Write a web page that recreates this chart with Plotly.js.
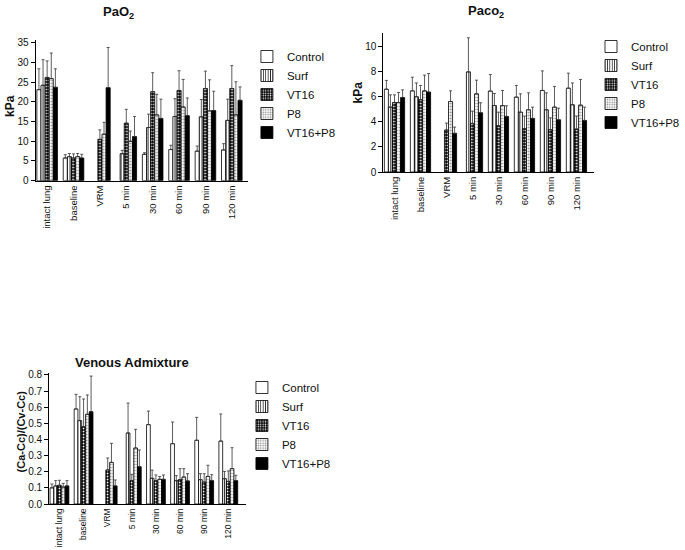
<!DOCTYPE html>
<html>
<head>
<meta charset="utf-8">
<script src="https://cdn.plot.ly/plotly-3.0.1.min.js"></script>
<style>html,body{margin:0;padding:0;background:#fff;}#chart{width:685px;height:550px;}</style>
</head>
<body>
<div id="chart"></div>
<script>
// ---------- data ----------
const categories = ['intact lung','baseline','VRM','5 min','30 min','60 min','90 min','120 min'];
const seriesNames = ['Control','Surf','VT16','P8','VT16+P8'];

// PaO2 (kPa) means and upper SD
const pao2_control = [23.1, 5.75, null, null, 6.7, 7.9, 7.5, 7.8];
const pao2_surf    = [24.2, 6.1, null, 6.85, 13.5, 16.3, 16.2, 15.3];
const pao2_vt16    = [26.2, 5.75, 10.5, 14.6, 22.6, 22.9, 23.4, 23.4];
const pao2_p8      = [25.9, 6.1, 11.8, 10.0, 16.7, 18.7, 17.7, 16.7];
const pao2_vt16p8  = [23.7, 5.75, 23.6, 11.2, 15.8, 16.5, 17.8, 20.4];
const pao2_control_sd = [5.3, 0.85, null, null, 0.4, 1.1, 1.3, 1.6];
const pao2_surf_sd    = [6.5, 0.8, null, 0.85, 3.4, 4.5, 4.4, 5.4];
const pao2_vt16_sd    = [4.2, 1.05, 2.4, 3.5, 4.8, 5.0, 4.4, 5.8];
const pao2_p8_sd      = [6.5, 0.8, 3.0, 2.6, 5.2, 7.0, 7.9, 8.4];
const pao2_vt16p8_sd  = [4.7, 0.95, 10.2, 5.1, 4.9, 4.5, 4.9, 3.4];

// PaCO2 (kPa)
const paco2_control = [6.6, 6.47, null, null, 6.45, 5.97, 6.5, 6.68];
const paco2_surf    = [5.17, 6.0, null, 7.98, 5.3, 4.77, 4.96, 5.36];
const paco2_vt16    = [5.54, 5.76, 3.34, 3.87, 3.69, 3.45, 3.37, 3.42];
const paco2_p8      = [5.54, 6.47, 5.62, 6.23, 5.3, 4.96, 5.17, 5.33];
const paco2_vt16p8  = [5.94, 6.37, 3.08, 4.72, 4.43, 4.27, 4.16, 4.11];
const paco2_control_sd = [0.7, 1.09, null, null, 1.32, 0.93, 1.56, 1.2];
const paco2_surf_sd    = [0.98, 1.1, null, 2.72, 0.96, 1.46, 1.35, 1.74];
const paco2_vt16_sd    = [0.61, 1.14, 0.56, 0.98, 1.08, 1.01, 0.95, 1.04];
const paco2_p8_sd      = [0.8, 1.25, 0.85, 1.09, 1.2, 1.35, 1.65, 2.04];
const paco2_vt16p8_sd  = [0.61, 1.48, 0.5, 0.8, 0.85, 0.9, 0.93, 1.06];

// Venous admixture (Ca-Cc)/(Cv-Cc)
const va_control = [0.10, 0.589, null, null, 0.492, 0.374, 0.395, 0.39];
const va_surf    = [0.112, 0.517, null, 0.44, 0.159, 0.145, 0.151, 0.157];
const va_vt16    = [0.116, 0.479, 0.211, 0.145, 0.145, 0.151, 0.136, 0.14];
const va_p8      = [0.105, 0.556, 0.258, 0.347, 0.153, 0.167, 0.171, 0.219];
const va_vt16p8  = [0.112, 0.572, 0.112, 0.231, 0.153, 0.143, 0.145, 0.145];
const va_control_sd = [0.024, 0.091, null, null, 0.084, 0.134, 0.142, 0.168];
const va_surf_sd    = [0.033, 0.148, null, 0.186, 0.051, 0.031, 0.037, 0.045];
const va_vt16_sd    = [0.031, 0.172, 0.074, 0.039, 0.035, 0.068, 0.052, 0.065];
const va_p8_sd      = [0.023, 0.12, 0.118, 0.116, 0.017, 0.052, 0.069, 0.13];
const va_vt16p8_sd  = [0.033, 0.221, 0.037, 0.104, 0.027, 0.045, 0.037, 0.033];

// ---------- styles ----------
const FONT = 'Arial, "Liberation Sans", sans-serif';
const patterns = [
  null,
  {shape:'|', size:3, solidity:0.33, fgcolor:'#222', bgcolor:'#fff'},
  {shape:'.', size:3, solidity:0.3, fgcolor:'#fff', bgcolor:'#000'},
  {shape:'.', size:3, solidity:0.35, fgcolor:'#888', bgcolor:'#fff'},
  null
];
const fills = ['#fff','#fff','#000','#fff','#000'];

function makeTraces(vals, sds, xa, ya, leg){
  return vals.map((v,i)=>{
    const m = {color:fills[i], line:{color:'#000', width:0.8}};
    if (patterns[i]) m.pattern = patterns[i];
    return {
      type:'bar', x:categories, y:v, name:seriesNames[i],
      xaxis:xa, yaxis:ya, legend:leg, legendgroup:leg+i,
      marker:m,
      error_y:{type:'data', symmetric:false, array:sds[i],
        arrayminus:sds[i].map(()=>0), color:'#333', thickness:0.8, width:1.5}
    };
  });
}

const data = [].concat(
  makeTraces([pao2_control,pao2_surf,pao2_vt16,pao2_p8,pao2_vt16p8],
             [pao2_control_sd,pao2_surf_sd,pao2_vt16_sd,pao2_p8_sd,pao2_vt16p8_sd],'x','y','legend'),
  makeTraces([paco2_control,paco2_surf,paco2_vt16,paco2_p8,paco2_vt16p8],
             [paco2_control_sd,paco2_surf_sd,paco2_vt16_sd,paco2_p8_sd,paco2_vt16p8_sd],'x2','y2','legend2'),
  makeTraces([va_control,va_surf,va_vt16,va_p8,va_vt16p8],
             [va_control_sd,va_surf_sd,va_vt16_sd,va_p8_sd,va_vt16p8_sd],'x3','y3','legend3')
);

const W=685, H=550;
const px = v=>v/W, py = v=>(H-v)/H;

function xax(d0,d1,anchor,range,fs){
  return {domain:[px(d0),px(d1)], anchor:anchor, type:'category', range:range,
    showline:true, linecolor:'#000', linewidth:1, ticks:'', tickangle:-90,
    tickfont:{family:FONT,size:fs,color:'#111'}, showgrid:false, zeroline:false, fixedrange:true};
}
function yax(top,bottom,anchor,range,dtick,fmt){
  return {domain:[py(bottom),py(top)], anchor:anchor, range:range, dtick:dtick, tickformat:fmt,
    showline:true, linecolor:'#000', linewidth:1, ticks:'outside', ticklen:4, tickcolor:'#000',
    tickfont:{family:FONT,size:10,color:'#111'}, showgrid:false, zeroline:false, fixedrange:true};
}
function leg(x,y){
  return {x:px(x), y:py(y), xanchor:'left', yanchor:'top', bgcolor:'rgba(0,0,0,0)',
    font:{family:FONT,size:11.5,color:'#111'}, traceorder:'normal', tracegroupgap:0};
}
function ann(text,x,y,size,angle){
  return {text:text, x:px(x), y:py(y), xref:'paper', yref:'paper', showarrow:false,
    xanchor:'center', yanchor:'middle', textangle:angle||0,
    font:{family:FONT,size:size,color:'#111'}};
}

const layout = {
  width:W, height:H, margin:{l:0,r:0,t:0,b:0}, paper_bgcolor:'#fff', plot_bgcolor:'#fff',
  barmode:'group', bargap:0.22, bargroupgap:0,
  xaxis: xax(35.7,249,'y',[-0.44,7.61],9.5),
  yaxis: yax(40,180.7,'x',[0,35.7],5),
  xaxis2: xax(385,597,'y2',[-0.43,7.69],9.5),
  yaxis2: yax(33,172,'x2',[0,11.08],2),
  xaxis3: xax(49.3,247,'y3',[-0.43,7.73],8.5),
  yaxis3: yax(373,504,'x3',[0,0.812],0.1,'.1f'),
  legend: leg(248,42),
  legend2: leg(594,32),
  legend3: leg(243,373),
  annotations:[
    ann('<b>PaO<sub>2</sub></b>',119,12,13),
    ann('<b>Paco<sub>2</sub></b>',488,11,13),
    ann('<b>Venous Admixture</b>',133,363,13),
    ann('<b>kPa</b>',10,106,12,-90),
    ann('<b>kPa</b>',358.6,92.5,12,-90),
    ann('<b>(Ca-Cc)/(Cv-Cc)</b>',21,431.5,11,-90)
  ],
  showlegend:true
};

Plotly.newPlot('chart', data, layout, {staticPlot:true, displayModeBar:false});
</script>
</body>
</html>
